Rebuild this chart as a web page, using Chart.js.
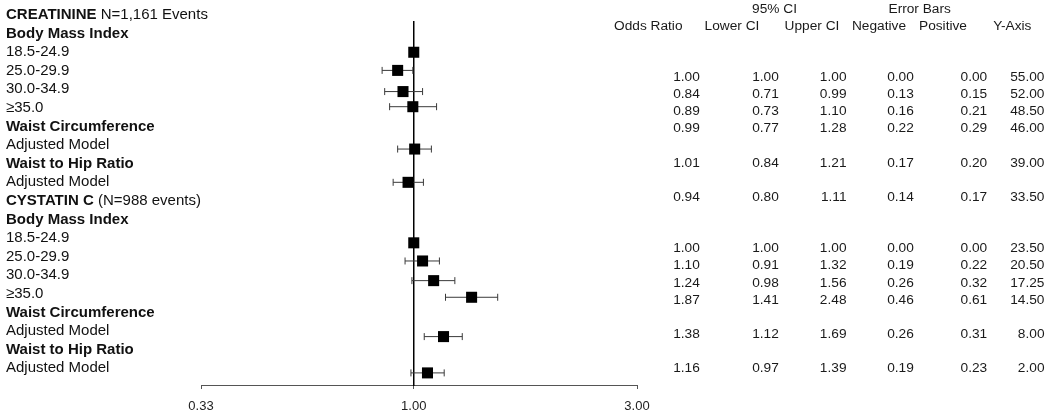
<!DOCTYPE html>
<html>
<head>
<meta charset="utf-8">
<script src="https://cdn.jsdelivr.net/npm/chart.js@4/dist/chart.umd.min.js"></script>
<style>
  html, body { margin: 0; padding: 0; background: #fff; }
  #wrap { position: relative; width: 1050px; height: 420px; overflow: hidden;
          font-family: "Liberation Sans", Arial, sans-serif; color: #111; }
  #c { position: absolute; left: 0; top: 0; }
  .lbl { position: absolute; white-space: nowrap; line-height: 1; font-size: 15px; }
  .lbl b { font-weight: bold; }
  .tb { position: absolute; white-space: nowrap; line-height: 1; font-size: 13.7px; color: #1a1a1a; }
</style>
</head>
<body>
<div id="wrap"><canvas id="c" width="1050" height="420"></canvas></div>
<script>
// ---------- data ----------
const rowLabelsBold = ['CREATININE', 'Body Mass Index', '', '', '', '', 'Waist Circumference', '', 'Waist to Hip Ratio', '',
                       'CYSTATIN C', 'Body Mass Index', '', '', '', '', 'Waist Circumference', '', 'Waist to Hip Ratio', ''];
const rowLabelsPlain = [' N=1,161 Events', '', '18.5-24.9', '25.0-29.9', '30.0-34.9', '\u226535.0', '', 'Adjusted Model', '', 'Adjusted Model',
                        ' (N=988 events)', '', '18.5-24.9', '25.0-29.9', '30.0-34.9', '\u226535.0', '', 'Adjusted Model', '', 'Adjusted Model'];

const oddsRatio = [1.00, 0.84, 0.89, 0.99, 1.01, 0.94, 1.00, 1.10, 1.24, 1.87, 1.38, 1.16];
const lowerCI   = [1.00, 0.71, 0.73, 0.77, 0.84, 0.80, 1.00, 0.91, 0.98, 1.41, 1.12, 0.97];
const upperCI   = [1.00, 0.99, 1.10, 1.28, 1.21, 1.11, 1.00, 1.32, 1.56, 2.48, 1.69, 1.39];
const errNeg    = [0.00, 0.13, 0.16, 0.22, 0.17, 0.14, 0.00, 0.19, 0.26, 0.46, 0.26, 0.19];
const errPos    = [0.00, 0.15, 0.21, 0.29, 0.20, 0.17, 0.00, 0.22, 0.32, 0.61, 0.31, 0.23];
const yAxisPos  = [55.00, 52.00, 48.50, 46.00, 39.00, 33.50, 23.50, 20.50, 17.25, 14.50, 8.00, 2.00];

const tableHeaders = ['Odds Ratio', 'Lower CI', 'Upper CI', 'Negative', 'Positive', 'Y-Axis'];
const groupHeaders = ['95% CI', 'Error Bars'];
const xTickLabels = ['0.33', '1.00', '3.00'];
const xMin = 0.1, xMax = 11.2, yMin = 0, yMax = 60, refValue = 1;

// ---------- layout (not data) ----------
const wrap = document.getElementById('wrap');
function addDiv(cls, html, css) {
  const d = document.createElement('div');
  d.className = cls; d.innerHTML = html;
  Object.assign(d.style, css);
  wrap.appendChild(d);
  return d;
}
// left labels
rowLabelsBold.forEach((b, i) => {
  const cy = 13.3 + 18.6 * i;
  const html = (b ? '<b>' + b + '</b>' : '') + (rowLabelsPlain[i] || '').replace(/ /g, '&nbsp;');
  addDiv('lbl', html, { left: '6px', top: (cy - 7.4) + 'px' });
});
// table headers
const headerCenters = [648.3, 732, 812, 879, 943, 1012.3];
tableHeaders.forEach((h, i) => {
  addDiv('tb', h, { left: (headerCenters[i] - 60) + 'px', width: '120px', textAlign: 'center', top: (25.3 - 6.8) + 'px' });
});
const groupCenters = [774.5, 919.7];
groupHeaders.forEach((h, i) => {
  addDiv('tb', h, { left: (groupCenters[i] - 60) + 'px', width: '120px', textAlign: 'center', top: (8.3 - 6.8) + 'px' });
});
// table values
const columns = [oddsRatio, lowerCI, upperCI, errNeg, errPos, yAxisPos];
const colRight = [699.8, 778.8, 846.5, 913.8, 987.2, 1044.5];
const tableRowSlots = [0, 1, 2, 3, 5, 7, 10, 11, 12, 13, 15, 17];
columns.forEach((col, c) => {
  col.forEach((v, r) => {
    const cy = 76.7 + 17.14 * tableRowSlots[r];
    addDiv('tb', v.toFixed(2), { left: (colRight[c] - 100) + 'px', width: '100px', textAlign: 'right', top: (cy - 6.8) + 'px' });
  });
});

// ---------- chart ----------
const barColor = '#3a3a3a';
const errorBarSets = oddsRatio.map((_, i) => ({
  data: [{ x: lowerCI[i], y: yAxisPos[i] }, { x: upperCI[i], y: yAxisPos[i] }],
  showLine: true,
  borderColor: barColor,
  borderWidth: 1,
  pointStyle: 'line',
  rotation: 90,
  pointRadius: 3.5,
  pointBorderColor: barColor,
  pointBorderWidth: 1,
  pointHoverRadius: 3.5,
  order: 2
}));
const markerSet = {
  data: oddsRatio.map((v, i) => ({ x: v, y: yAxisPos[i] })),
  showLine: false,
  pointStyle: 'rect',
  pointRadius: 7.8,
  pointHoverRadius: 7.8,
  backgroundColor: '#000',
  borderColor: '#000',
  pointBorderWidth: 0,
  order: 1
};

new Chart(document.getElementById('c'), {
  type: 'scatter',
  data: { datasets: [markerSet, ...errorBarSets] },
  options: {
    responsive: false,
    animation: false,
    devicePixelRatio: 1,
    layout: { padding: { left: 201, right: 413, top: 22, bottom: 0 } },
    plugins: { legend: { display: false }, tooltip: { enabled: false } },
    scales: {
      x: {
        type: 'logarithmic',
        min: xMin, max: xMax,
        afterBuildTicks: (s) => { s.ticks = [xMin, refValue, xMax].map(v => ({ value: v })); },
        afterFit: (s) => { s.height = 35; },
        ticks: {
          autoSkip: false, maxRotation: 0, padding: 10,
          color: '#222',
          font: { family: '"Liberation Sans", Arial, sans-serif', size: 13 },
          callback: (v, i) => xTickLabels[i]
        },
        grid: { display: true, drawOnChartArea: false, drawTicks: true, tickLength: 4, color: '#555' },
        border: { display: true, color: '#555', width: 1 }
      },
      y: {
        type: 'linear',
        min: yMin, max: yMax,
        position: { x: refValue },
        ticks: { display: false },
        grid: { display: false, drawTicks: false },
        border: { display: true, color: '#000', width: 1.5 }
      }
    }
  }
});
</script>
</body>
</html>
